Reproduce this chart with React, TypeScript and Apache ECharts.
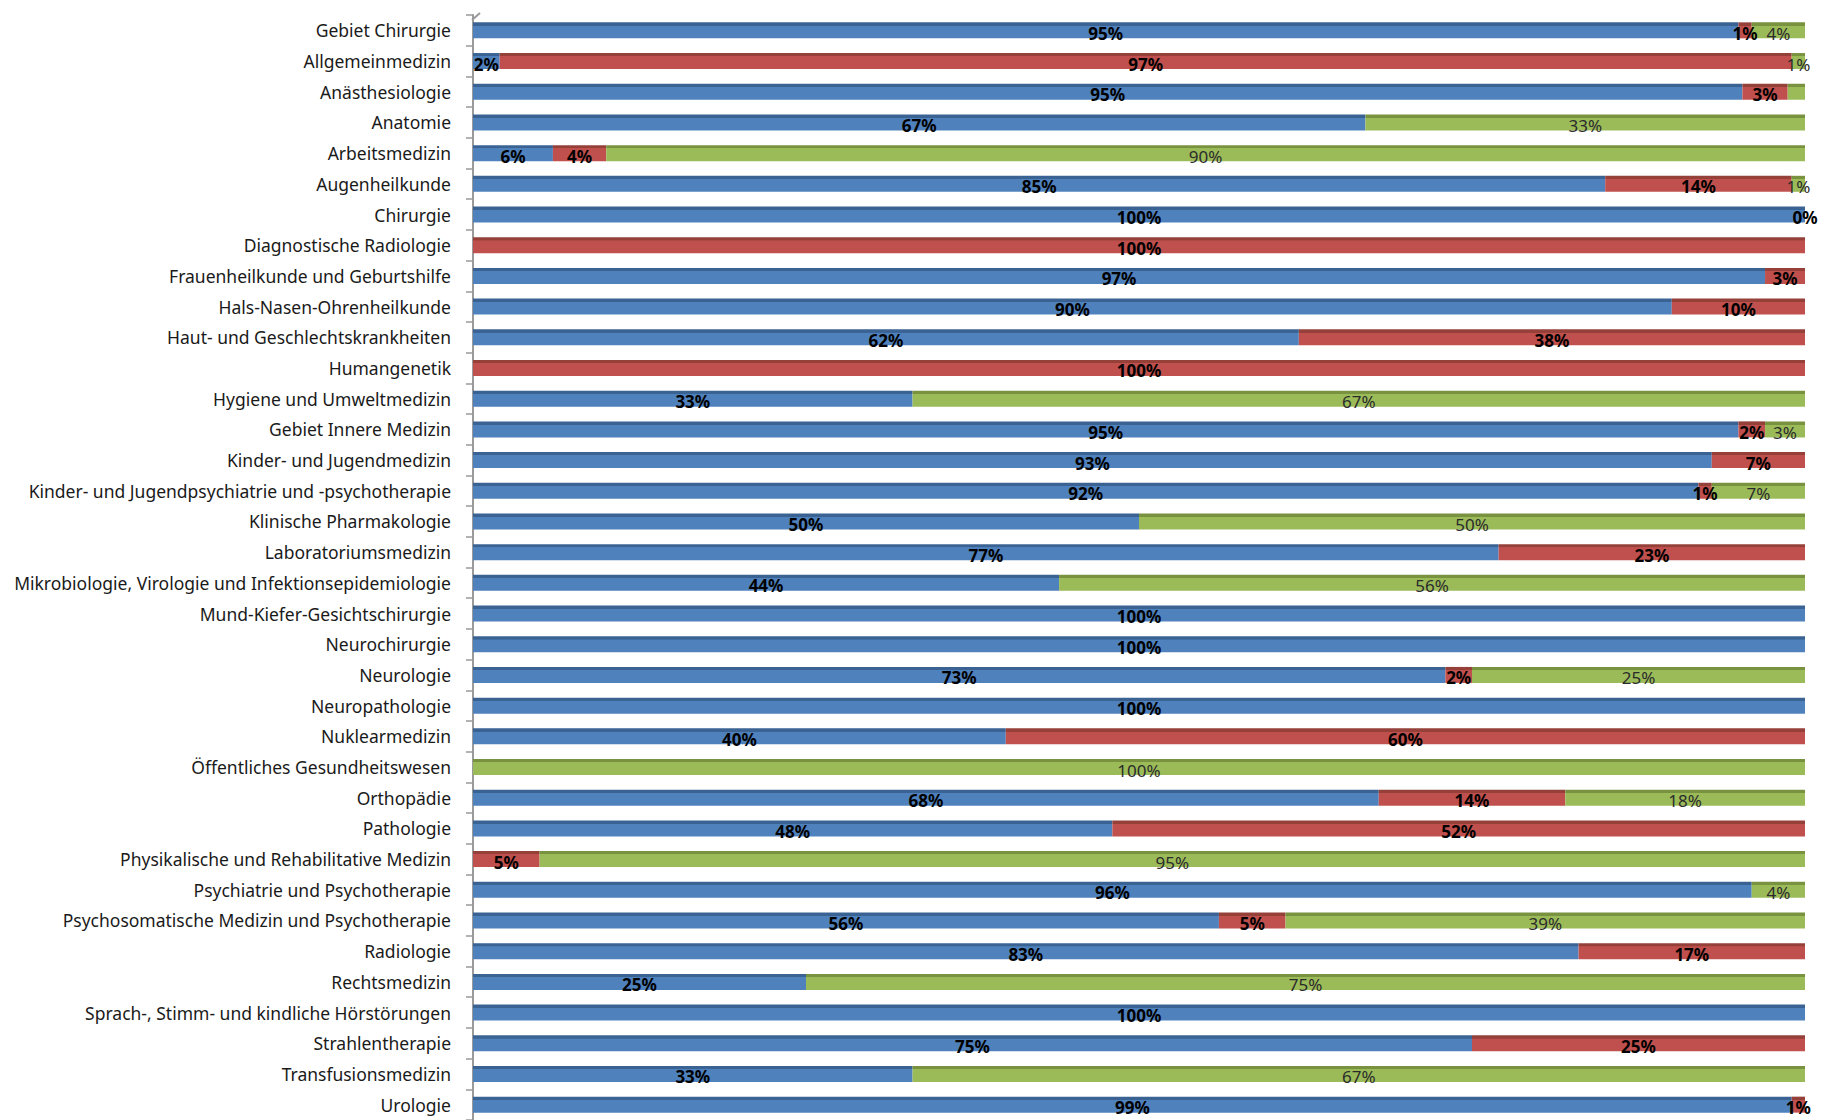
import React, { useEffect, useRef } from "react";
import * as echarts from "echarts";

const categories = [
  "Gebiet Chirurgie",
  "Allgemeinmedizin",
  "Anästhesiologie",
  "Anatomie",
  "Arbeitsmedizin",
  "Augenheilkunde",
  "Chirurgie",
  "Diagnostische Radiologie",
  "Frauenheilkunde und Geburtshilfe",
  "Hals-Nasen-Ohrenheilkunde",
  "Haut- und Geschlechtskrankheiten",
  "Humangenetik",
  "Hygiene und Umweltmedizin",
  "Gebiet Innere Medizin",
  "Kinder- und Jugendmedizin",
  "Kinder- und Jugendpsychiatrie und -psychotherapie",
  "Klinische Pharmakologie",
  "Laboratoriumsmedizin",
  "Mikrobiologie, Virologie und Infektionsepidemiologie",
  "Mund-Kiefer-Gesichtschirurgie",
  "Neurochirurgie",
  "Neurologie",
  "Neuropathologie",
  "Nuklearmedizin",
  "Öffentliches Gesundheitswesen",
  "Orthopädie",
  "Pathologie",
  "Physikalische und Rehabilitative Medizin",
  "Psychiatrie und Psychotherapie",
  "Psychosomatische Medizin und Psychotherapie",
  "Radiologie",
  "Rechtsmedizin",
  "Sprach-, Stimm- und kindliche Hörstörungen",
  "Strahlentherapie",
  "Transfusionsmedizin",
  "Urologie",
];

const blueValues = [95, 2, 95.3, 67, 6, 85, 100, null, 97, 90, 62, null, 33, 95, 93, 92, 50, 77, 44, 100, 100, 73, 100, 40, null, 68, 48, null, 96, 56, 83, 25, 100, 75, 33, 99];
const redValues = [1, 97, 3.4, null, 4, 14, 0, 100, 3, 10, 38, 100, null, 2, 7, 1, null, 23, null, null, null, 2, null, 60, null, 14, 52, 5, null, 5, 17, null, null, 25, null, 1];
const greenValues = [4, 1, 1.3, 33, 90, 1, null, null, null, null, null, null, 67, 3, null, 7, 50, null, 56, null, null, 25, null, null, 100, 18, null, 95, 4, 39, null, 75, null, null, 67, null];

// labels not shown in the reference: [seriesIndex, categoryIndex]
const hiddenLabels = [[2, 2]];

const seriesNames = ["Blau", "Rot", "Grün"];

function face(dark: string, base: string) {
  return new echarts.graphic.LinearGradient(0, 0, 0, 1, [
    { offset: 0, color: dark },
    { offset: 0.2, color: dark },
    { offset: 0.21, color: base },
    { offset: 1, color: base },
  ]);
}

export default function App() {
  const ref = useRef<HTMLDivElement>(null);
  useEffect(() => {
    document.body.style.margin = "0";
    const chart = echarts.init(ref.current!, null, { renderer: "svg" });
    const font = "'Noto Sans', sans-serif";
    const mk = (vals: (number | null)[], si: number) =>
      vals.map((v, i) => {
        if (v === null) return null;
        const hidden = hiddenLabels.some(([s, c]) => s === si && c === i);
        return hidden ? { value: v, label: { show: false } } : { value: v };
      });
    const colors = [
      face("#3a6394", "#4F81BD"),
      face("#954039", "#C0504D"),
      face("#78923f", "#9BBB59"),
    ];
    const allValues = [blueValues, redValues, greenValues];
    chart.setOption({
      animation: false,
      grid: { left: 473, right: 27, top: 15, height: 1108 },
      xAxis: {
        type: "value",
        min: 0,
        max: 100,
        show: false,
      },
      yAxis: {
        type: "category",
        inverse: true,
        data: categories,
        axisLine: { show: true, lineStyle: { color: "#9a9a9a", width: 2 } },
        axisTick: { show: true, inside: false, length: 7, lineStyle: { color: "#9a9a9a", width: 1.5 } },
        axisLabel: { margin: 22, color: "#1a1a1a", fontSize: 17.5, fontFamily: font },
      },
      series: allValues.map((vals, si) => ({
        type: "bar",
        name: seriesNames[si],
        stack: "total",
        barWidth: 16,
        data: mk(vals, si),
        itemStyle: { color: colors[si] },
        label: {
          show: true,
          position: "inside",
          offset: [0, 3],
          formatter: (p: any) => Math.round(p.value) + "%",
          fontFamily: font,
          fontSize: 17,
          fontWeight: si === 2 ? "normal" : "bold",
          color: si === 2 ? "#2b2b2b" : "#000000",
        },
      })),
      graphic: [
        {
          type: "line",
          shape: { x1: 472, y1: 20, x2: 480, y2: 13 },
          style: { stroke: "#9a9a9a", lineWidth: 2 },
        },
      ],
    });
    return () => chart.dispose();
  }, []);
  return <div ref={ref} style={{ width: 1832, height: 1120 }} />;
}
